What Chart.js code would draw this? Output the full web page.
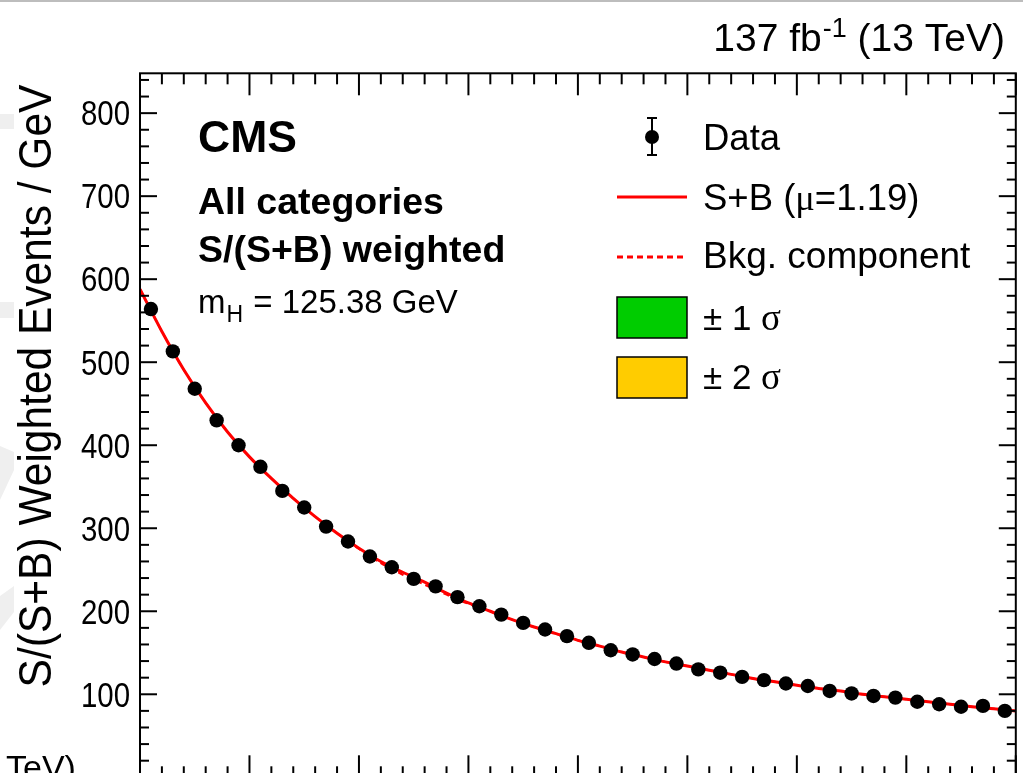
<!DOCTYPE html>
<html><head><meta charset="utf-8">
<script src="https://cdn.jsdelivr.net/npm/chart.js@4.4.1/dist/chart.umd.min.js"></script>
<style>html,body{margin:0;padding:0;background:#fff;overflow:hidden;width:1023px;height:773px}canvas{display:block}</style>
</head><body>
<canvas id="c" width="1023" height="800"></canvas>
<script>
// Diphoton mass bin centres (GeV)
const massBins = [101,103,105,107,109,111,113,115,117,119,121,123,125,127,129,131,133,135,137,139,
                  141,143,145,147,149,151,153,155,157,159,161,163,165,167,169,171,173,175,177,179];
// S/(S+B) weighted events / GeV (data)
const dataValues = [564,513,468,430,400,374,345,325,302,284,266,253,239,230,217,206,196,186,178,170,
                    162,153,148,142.5,137,130,126,121,117,113,110,104,101,98,96,91,88,85,86,80];
// Fit curve sampling masses (GeV)
const fitMass = [100,102,104,106,108,110,112,114,116,118,120,122,124,126,128,130,132,134,136,138,140,
                 142,144,146,148,150,152,154,156,158,160,162,164,166,168,170,172,174,176,178,180];
// S+B fit (mu = 1.19)
const sbValues = [588,537,491,451,416,386,360,336,314,294,276,260,247,235,222,210,200,190,181,173,165,
                  158,151,145,139,134,129,124,119,115,111,107,104,100,97,94,91,88,85,82.5,80];
// Background component
const bkgValues = [588,537,491,451,416,386,360,336,314,294,275,258,244,232,220,209,200,190,181,173,165,
                   158,151,145,139,134,129,124,119,115,111,107,104,100,97,94,91,88,85,82.5,80];
const yTickValues = [100,200,300,400,500,600,700,800];
const xRange = [100,180];
const yRange = [0,848];

const SANS = '"Liberation Sans", Arial, Helvetica, sans-serif';
const SERIF = '"Liberation Serif", "Times New Roman", serif';

const decor = {
  id:'decor',
  afterDraw(chart){
    const ctx = chart.ctx, a = chart.chartArea, xs = chart.scales.x, ys = chart.scales.y;
    ctx.save();
    // top grey line
    ctx.fillStyle = '#bdbdbd'; ctx.fillRect(0,0,1023,2);
    // faint watermark fragments at the left edge
    ctx.fillStyle = '#efefef';
    ctx.fillRect(0,114,14,15);
    ctx.fillRect(0,302,14,16);
    ctx.beginPath(); ctx.moveTo(0,446); ctx.lineTo(14,452); ctx.lineTo(14,470); ctx.lineTo(0,500); ctx.closePath(); ctx.fill();
    ctx.beginPath(); ctx.moveTo(0,596); ctx.lineTo(14,586); ctx.lineTo(14,612); ctx.lineTo(0,630); ctx.closePath(); ctx.fill();
    // frame
    ctx.strokeStyle = '#000'; ctx.lineWidth = 2;
    ctx.strokeRect(a.left, a.top, a.right-a.left, a.bottom-a.top);
    const line = (x1,y1,x2,y2)=>{ctx.beginPath();ctx.moveTo(x1,y1);ctx.lineTo(x2,y2);ctx.stroke();};
    for (let m = xRange[0]; m <= xRange[1]; m += 2) {
      const px = xs.getPixelForValue(m), len = (m % 10 === 0) ? 22 : 11;
      line(px, a.top, px, a.top+len); line(px, a.bottom, px, a.bottom-len);
    }
    for (let v = yRange[0]; v <= yRange[1]; v += 20) {
      const py = ys.getPixelForValue(v), len = (v % 100 === 0) ? 17 : 9;
      line(a.left, py, a.left+len, py); line(a.right, py, a.right-len, py);
    }
    ctx.fillStyle = '#000';
    ctx.textBaseline = 'alphabetic';
    // y tick labels (right aligned)
    ctx.font = '32px ' + SANS; ctx.textAlign = 'right';
    yTickValues.forEach(v => {
      const py = ys.getPixelForValue(v);
      ctx.save(); ctx.translate(130, py + 12.3); ctx.scale(0.92, 1.08);
      ctx.fillText(String(v), 0, 0); ctx.restore();
    });
    // y title
    ctx.save();
    ctx.translate(51, 386); ctx.rotate(-Math.PI/2); ctx.scale(1, 1.1);
    ctx.font = '42.5px ' + SANS; ctx.textAlign = 'center';
    ctx.fillText('S/(S+B) Weighted Events / GeV', 0, 0);
    ctx.restore();
    // top right lumi
    ctx.textAlign = 'left';
    ctx.font = '39px ' + SANS;
    const p1 = '137 fb', p2 = '-1', p3 = ' (13 TeV)';
    const w1 = ctx.measureText(p1).width, w3 = ctx.measureText(p3).width;
    ctx.font = '27px ' + SANS; const w2 = ctx.measureText(p2).width;
    let x0 = 1004 - (w1 + w2 + w3);
    ctx.font = '39px ' + SANS; ctx.fillText(p1, x0, 51);
    ctx.font = '27px ' + SANS; ctx.fillText(p2, x0 + w1 + 1, 37);
    ctx.font = '39px ' + SANS; ctx.fillText(p3, x0 + w1 + w2 + 1, 51);
    // CMS labels
    ctx.font = 'bold 44.5px ' + SANS; ctx.fillText('CMS', 198, 152);
    ctx.font = 'bold 37.5px ' + SANS; ctx.fillText('All categories', 198, 214);
    ctx.fillText('S/(S+B) weighted', 198, 262);
    ctx.font = '33px ' + SANS; ctx.fillText('m', 198, 313);
    const mw = ctx.measureText('m').width;
    ctx.font = '23px ' + SANS; ctx.fillText('H', 198 + mw + 1, 322);
    const hw = ctx.measureText('H').width;
    ctx.font = '33px ' + SANS; ctx.fillText(' = 125.38 GeV', 198 + mw + hw + 2, 313);
    // legend
    const lx = 703;
    ctx.font = '36.5px ' + SANS;
    ctx.fillText('Data', lx, 150);
    line(652, 118, 652, 155); line(647, 118, 657, 118); line(647, 155, 657, 155);
    ctx.beginPath(); ctx.arc(652, 137, 7, 0, Math.PI*2); ctx.fill();
    ctx.fillText('S+B (', lx, 210);
    let w = ctx.measureText('S+B (').width;
    ctx.font = '36.5px ' + SERIF; ctx.fillText('\u03bc', lx + w, 210);
    w += ctx.measureText('\u03bc').width;
    ctx.font = '36.5px ' + SANS; ctx.fillText('=1.19)', lx + w, 210);
    ctx.strokeStyle = '#ff0000'; ctx.lineWidth = 3; line(617, 197, 687, 197);
    ctx.setLineDash([6,4]); line(617, 257, 687, 257); ctx.setLineDash([]);
    ctx.font = '37px ' + SANS;
    ctx.fillText('Bkg. component', lx, 268);
    ctx.strokeStyle = '#000'; ctx.lineWidth = 1.5;
    ctx.fillStyle = '#00cc00'; ctx.fillRect(617, 297, 70, 41); ctx.strokeRect(617, 297, 70, 41);
    ctx.fillStyle = '#ffcc00'; ctx.fillRect(617, 357, 70, 41); ctx.strokeRect(617, 357, 70, 41);
    ctx.fillStyle = '#000';
    const sig = (num, y) => {
      ctx.font = '35px ' + SANS; const t = '\u00b1 ' + num + ' ';
      ctx.fillText(t, lx, y); const tw = ctx.measureText(t).width;
      ctx.font = '37px ' + SERIF; ctx.fillText('\u03c3', lx + tw, y);
    };
    sig('1', 330); sig('2', 389);
    // fragment of neighbouring panel label
    ctx.font = '34px ' + SANS; ctx.fillText('TeV)', 6, 779);
    ctx.restore();
  }
};

new Chart(document.getElementById('c'), {
  type: 'scatter',
  data: { datasets: [
    { label:'Data', data: massBins.map((m,i)=>({x:m, y:dataValues[i]})),
      pointRadius:7.2, pointBackgroundColor:'#000', pointBorderWidth:0, showLine:false, order:0 },
    { label:'S+B', type:'line', data: fitMass.map((m,i)=>({x:m, y:sbValues[i]})),
      borderColor:'#ff0000', borderWidth:3, pointRadius:0, cubicInterpolationMode:'monotone', fill:false, order:1 },
    { label:'Bkg. component', type:'line', data: fitMass.map((m,i)=>({x:m, y:bkgValues[i]})),
      borderColor:'#ff0000', borderWidth:2, borderDash:[6,4], pointRadius:0, cubicInterpolationMode:'monotone', fill:false, order:2 }
  ]},
  options: {
    responsive:false, animation:false, devicePixelRatio:1,
    layout:{ padding:{ left:0, top:73.3, right:4, bottom:22.7 } },
    plugins:{ legend:{display:false}, tooltip:{enabled:false} },
    scales:{
      x:{ type:'linear', min:xRange[0], max:xRange[1], display:false },
      y:{ type:'linear', min:yRange[0], max:yRange[1],
          afterFit(s){ s.width = 140; },
          grid:{ display:false, drawTicks:false }, border:{ display:false },
          afterBuildTicks(s){ s.ticks = yTickValues.map(v=>({value:v})); },
          ticks:{ display:false } }
    }
  },
  plugins:[decor]
});
</script>
</body></html>
